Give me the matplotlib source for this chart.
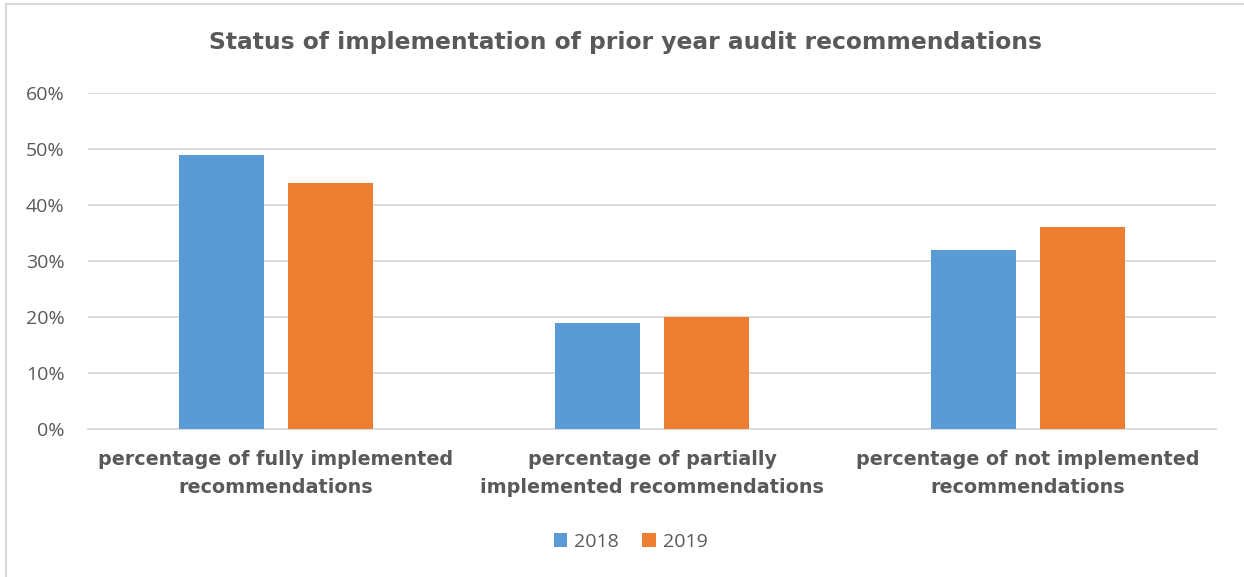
import matplotlib
matplotlib.use("Agg")
import matplotlib.pyplot as plt
import numpy as np
from matplotlib.lines import Line2D
from matplotlib.ticker import PercentFormatter

categories = [
    "percentage of fully implemented\nrecommendations",
    "percentage of partially\nimplemented recommendations",
    "percentage of not implemented\nrecommendations",
]
series_names = ["2018", "2019"]
values_2018 = [0.49, 0.19, 0.32]
values_2019 = [0.44, 0.20, 0.36]
y_ticks = [0.0, 0.1, 0.2, 0.3, 0.4, 0.5, 0.6]

blue = "#5B9BD5"
orange = "#ED7D31"
text_col = "#595959"
grid_col = "#D9D9D9"

fig = plt.figure(figsize=(12.44, 5.77), dpi=100)
ax = fig.add_axes([88 / 1244, 1 - 429 / 577, (1216 - 88) / 1244, (429 - 93) / 577])

x = np.arange(len(categories))
width = 0.226
offset = 0.144
ax.bar(x - offset, values_2018, width, color=blue, label=series_names[0], zorder=3)
ax.bar(x + offset, values_2019, width, color=orange, label=series_names[1], zorder=3)

ax.set_xlim(-0.5, len(categories) - 0.5)
ax.set_ylim(0, 0.6)
ax.set_yticks(y_ticks)
ax.yaxis.set_major_formatter(PercentFormatter(1.0, decimals=0))
ax.grid(axis="y", color=grid_col, linewidth=1.3, zorder=0)
for s in ["top", "right", "left"]:
    ax.spines[s].set_visible(False)
ax.spines["bottom"].set_color(grid_col)
ax.spines["bottom"].set_linewidth(1.3)
ax.tick_params(axis="y", length=0, pad=17, labelsize=14, labelcolor=text_col)
ax.tick_params(axis="x", length=0, pad=15)
ax.set_xticks(x)
ax.set_xticklabels(categories, fontsize=13.8, fontweight="bold", color=text_col,
                   linespacing=1.6)
for t in ax.get_yticklabels():
    t.set_fontfamily("Open Sans")

fig.text(0.503, 1 - 43 / 577, "Status of implementation of prior year audit recommendations",
         ha="center", va="center", fontsize=16.8, fontweight="bold", color=text_col)

handles, labels = ax.get_legend_handles_labels()
leg = fig.legend(handles, labels, loc="center", bbox_to_anchor=(0.507, 1 - 542 / 577),
                 ncol=2, frameon=False, fontsize=14, handlelength=0.7, handleheight=0.7,
                 handletextpad=0.35, columnspacing=1.2)
for t in leg.get_texts():
    t.set_color(text_col)
    t.set_fontfamily("Open Sans")

# light frame along the top and left of the chart area
fig.add_artist(Line2D([6 / 1244, 6 / 1244], [0, 1 - 4 / 577], color=grid_col, linewidth=1.5,
                      transform=fig.transFigure))
fig.add_artist(Line2D([6 / 1244, 1], [1 - 4 / 577, 1 - 4 / 577], color=grid_col, linewidth=1.5,
                      transform=fig.transFigure))

fig.savefig("out.png", dpi=100, facecolor="white")
